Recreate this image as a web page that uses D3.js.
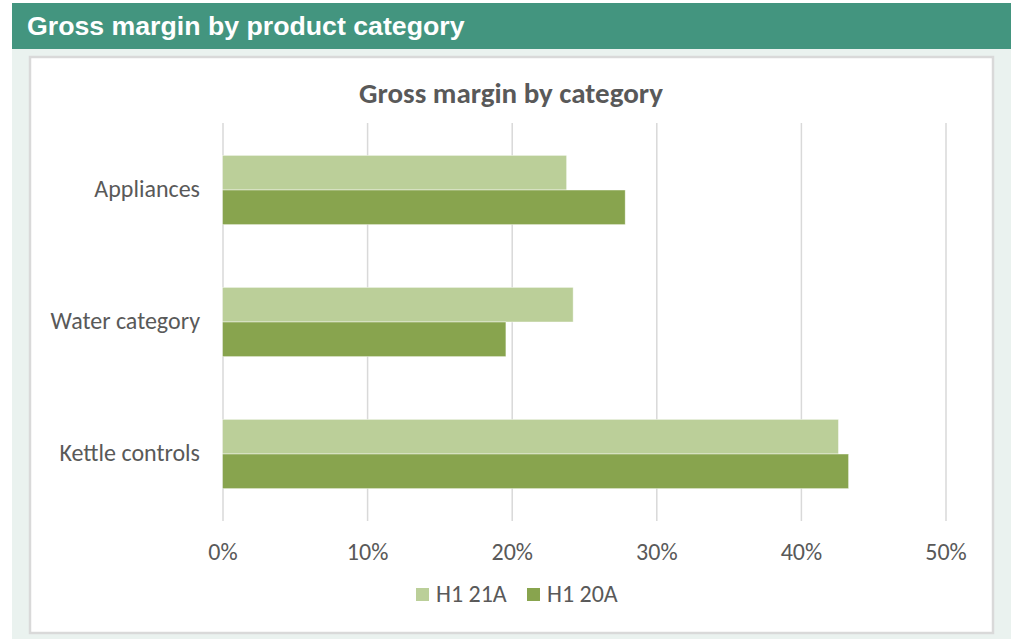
<!DOCTYPE html>
<html>
<head>
<meta charset="utf-8">
<script src="https://cdn.jsdelivr.net/npm/d3@7"></script>
<style>
    body { margin: 0; background: #ffffff; }
    svg { display: block; }
</style>
</head>
<body>
<svg id="chart" width="1016" height="639"></svg>
<script>
// Chart data
const categories = ['Appliances', 'Water category', 'Kettle controls'];
const seriesNames = ['H1 21A', 'H1 20A'];
const seriesColors = ['#bbcf99', '#88a44e'];
const h121a = [0.238, 0.2425, 0.426];
const h120a = [0.2785, 0.196, 0.433];
const xTicks = [0, 0.1, 0.2, 0.3, 0.4, 0.5];

const chartFont = 'Carlito, Calibri, Lato, sans-serif';
const textGrey = '#595959';

const svg = d3.select('#chart');

// Page header and panel
svg.append('rect').attr('x', 12).attr('y', 3).attr('width', 999).attr('height', 46).attr('fill', '#43957f');
svg.append('text')
    .attr('x', 27).attr('y', 35)
    .attr('fill', '#ffffff')
    .style('font-family', '"Liberation Sans", Arial, sans-serif')
    .style('font-weight', 'bold')
    .style('font-size', '26.7px')
    .text('Gross margin by product category');
svg.append('rect').attr('x', 12).attr('y', 49).attr('width', 999).attr('height', 590).attr('fill', '#eaf2ef');
svg.append('rect').attr('x', 30).attr('y', 57).attr('width', 963).attr('height', 576)
    .attr('fill', '#ffffff').attr('stroke', '#d9d9d9').attr('stroke-width', 2.5);

// Chart title
svg.append('text')
    .attr('x', 511).attr('y', 103)
    .attr('text-anchor', 'middle')
    .attr('fill', textGrey)
    .style('font-family', chartFont)
    .style('font-weight', 'bold')
    .style('font-size', '29px')
    .text('Gross margin by category');

// Scales
const x = d3.scaleLinear().domain([0, 0.5]).range([222.5, 945.5]);
const y = d3.scaleBand().domain(categories).range([124, 520]).paddingInner(0.475).paddingOuter(0.2375);
const ySub = d3.scaleBand().domain(seriesNames).range([0, y.bandwidth()]);

// Gridlines + tick labels via axis
const xAxis = d3.axisBottom(x)
    .tickValues(xTicks)
    .tickFormat(d3.format('.0%'))
    .tickSize(-(521 - 123))
    .tickPadding(22);

const axisG = svg.append('g').attr('transform', 'translate(0,521)').call(xAxis);
axisG.select('.domain').remove();
axisG.selectAll('line').attr('stroke', '#d9d9d9').attr('stroke-width', 1.5);
axisG.selectAll('text')
    .attr('fill', textGrey)
    .style('font-family', chartFont)
    .style('font-size', '24px');

// Bars
const rows = categories.map((c, i) => ({ category: c, values: [h121a[i], h120a[i]] }));

const groups = svg.append('g').selectAll('g')
    .data(rows)
    .join('g')
    .attr('transform', d => `translate(0,${y(d.category)})`);

groups.selectAll('rect')
    .data(d => d.values.map((v, j) => ({ name: seriesNames[j], value: v, color: seriesColors[j] })))
    .join('rect')
    .attr('x', x(0))
    .attr('y', d => ySub(d.name))
    .attr('width', d => x(d.value) - x(0))
    .attr('height', ySub.bandwidth())
    .attr('fill', d => d.color)
    .attr('stroke', '#ffffff')
    .attr('stroke-opacity', 0.6)
    .attr('stroke-width', 0.75);

// Category labels
svg.append('g').selectAll('text')
    .data(categories)
    .join('text')
    .attr('x', 200)
    .attr('y', d => y(d) + y.bandwidth() / 2 + 7)
    .attr('text-anchor', 'end')
    .attr('fill', textGrey)
    .style('font-family', chartFont)
    .style('font-size', '24px')
    .text(d => d);

// Legend
const legendX = [416, 527];
const legend = svg.append('g').selectAll('g')
    .data(seriesNames)
    .join('g')
    .attr('transform', (d, i) => `translate(${legendX[i]},588)`);

legend.append('rect')
    .attr('width', 13).attr('height', 13)
    .attr('fill', (d, i) => seriesColors[i]);

legend.append('text')
    .attr('x', 20).attr('y', 14)
    .attr('fill', textGrey)
    .style('font-family', chartFont)
    .style('font-size', '24px')
    .text(d => d);
</script>
</body>
</html>
